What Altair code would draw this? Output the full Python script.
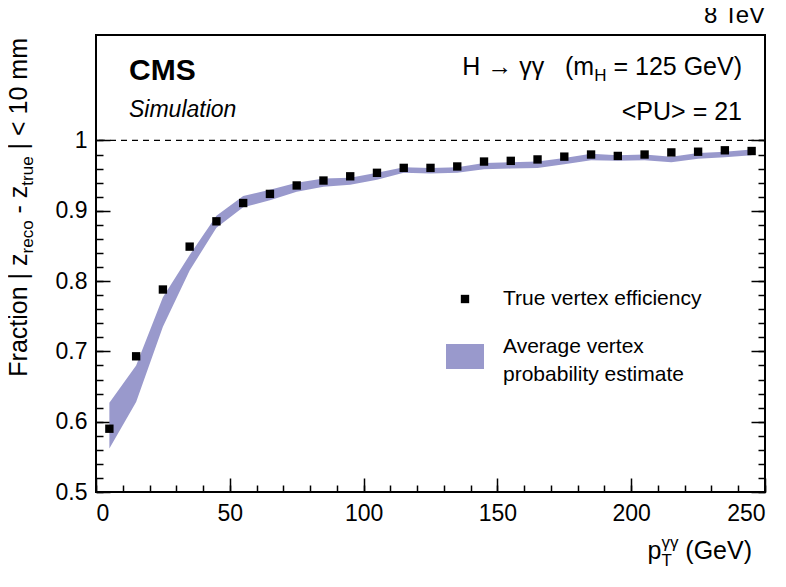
import altair as alt
import pandas as pd

# ---------------- data ----------------
pt = [5, 15, 25, 35, 45, 55, 65, 75, 85, 95, 105, 115, 125, 135, 145,
      155, 165, 175, 185, 195, 205, 215, 225, 235, 245]
eff = [0.590, 0.693, 0.788, 0.849, 0.885, 0.911, 0.924, 0.936, 0.943, 0.949,
       0.954, 0.961, 0.961, 0.963, 0.970, 0.971, 0.973, 0.977, 0.980, 0.978,
       0.980, 0.983, 0.984, 0.986, 0.985]
band_lo = [0.562, 0.628, 0.735, 0.815, 0.876, 0.905, 0.915, 0.927, 0.934, 0.937,
           0.944, 0.954, 0.953, 0.954, 0.959, 0.960, 0.961, 0.966, 0.972, 0.971,
           0.972, 0.969, 0.974, 0.976, 0.979]
band_hi = [0.627, 0.680, 0.777, 0.837, 0.893, 0.921, 0.930, 0.940, 0.946, 0.947,
           0.954, 0.962, 0.961, 0.962, 0.968, 0.969, 0.970, 0.975, 0.981, 0.979,
           0.980, 0.977, 0.982, 0.984, 0.987]
ref_level = [1.0]

x_major = [0, 50, 100, 150, 200, 250]
x_minor = [0, 10, 20, 30, 40, 50, 60, 70, 80, 90, 100, 110, 120, 130, 140, 150,
           160, 170, 180, 190, 200, 210, 220, 230, 240, 250]
y_major = [0.5, 0.6, 0.7, 0.8, 0.9, 1.0]
y_minor = [0.5, 0.52, 0.54, 0.56, 0.58, 0.6, 0.62, 0.64, 0.66, 0.68, 0.7, 0.72,
           0.74, 0.76, 0.78, 0.8, 0.82, 0.84, 0.86, 0.88, 0.9, 0.92, 0.94, 0.96,
           0.98, 1.0]

# ---------------- layout ----------------
W, H = 669, 457
FONT = "Liberation Sans"
BAND = "#9999cc"

df = pd.DataFrame({"pt": pt, "eff": eff, "lo": band_lo, "hi": band_hi})
ref_df = pd.DataFrame({"level": ref_level})
one = pd.DataFrame({"k": [0]})

xs = alt.Scale(domain=[0, 250], nice=False, zero=False)
ys = alt.Scale(domain=[0.5, 1.15], nice=False, zero=False)


def tick_axis(orient, values, size, offset):
    return alt.Axis(orient=orient, values=values, tickSize=size, offset=offset,
                    labels=False, domain=False, grid=False, title=None,
                    tickColor="black", tickWidth=1.5)


base = alt.Chart(df)

band = base.mark_area(color=BAND, opacity=1).encode(
    x=alt.X("pt:Q", scale=xs, title=None,
            axis=alt.Axis(orient="bottom", values=x_major, ticks=False, domain=False,
                          grid=False, labelPadding=10, labelFontSize=23,
                          labelFont=FONT, labelColor="black")),
    y=alt.Y("lo:Q", scale=ys, title=None,
            axis=alt.Axis(orient="left", values=y_major, ticks=False, domain=False,
                          grid=False, labelPadding=9, labelFontSize=23, format="~g",
                          labelFont=FONT, labelColor="black")),
    y2="hi:Q",
)

points = base.mark_square(size=70, color="black", opacity=1).encode(
    x=alt.X("pt:Q", scale=xs, title=None, axis=tick_axis("top", x_major, 14, -H)),
    y=alt.Y("eff:Q", scale=ys, title=None, axis=tick_axis("right", y_major, 14, -W)),
)

minor_in = base.mark_point(opacity=0).encode(
    x=alt.X("pt:Q", scale=xs, title=None, axis=tick_axis("top", x_minor, 7, -H)),
    y=alt.Y("eff:Q", scale=ys, title=None, axis=tick_axis("right", y_minor, 7, -W)),
)

right_major = base.mark_point(opacity=0).encode(
    x=alt.X("pt:Q", scale=xs, axis=None),
    y=alt.Y("eff:Q", scale=ys, title=None, axis=tick_axis("left", y_major, 14, -W)),
)
right_minor = base.mark_point(opacity=0).encode(
    x=alt.X("pt:Q", scale=xs, axis=None),
    y=alt.Y("eff:Q", scale=ys, title=None, axis=tick_axis("left", y_minor, 7, -W)),
)

ref_line = alt.Chart(ref_df).mark_rule(color="black", strokeWidth=1.3,
                                       strokeDash=[6, 5]).encode(
    y=alt.Y("level:Q", scale=ys, axis=None)
)


def txt(s, x, y, size=24, align="left", baseline="alphabetic", dx=0, dy=0,
        angle=0, weight="normal", style="normal"):
    return alt.Chart(one).mark_text(
        text=s, fontSize=size, align=align, baseline=baseline, dx=dx, dy=dy,
        angle=angle, font=FONT, fontWeight=weight, fontStyle=style, color="black"
    ).encode(x=alt.value(x), y=alt.value(y))


NB = "\u00a0"
texts = [
    txt("8 TeV", W, -12, size=24, align="right"),
    txt("CMS", 33, 45, size=30, weight="bold"),
    txt("Simulation", 33, 82, size=23, style="italic"),
    # H -> gamma gamma (m_H = 125 GeV)
    txt(NB + "=" + NB + "125 GeV)", 646, 40, size=25, align="right"),
    txt("H", 646, 40, size=17, align="right", dx=-135.5, dy=6),
    txt("H " + "\u2192" + " \u03b3\u03b3" + NB + NB + NB + "(m", 646, 40, size=25,
        align="right", dx=-147.8),
    txt("<PU> = 21", 646, 85, size=25, align="right"),
    # legend
    txt("True vertex efficiency", 407, 264, size=21, baseline="middle"),
    txt("Average vertex", 407, 312, size=21, baseline="middle"),
    txt("probability estimate", 407, 340, size=21, baseline="middle"),
    # x title
    txt(NB + "(GeV)", 656, 524, size=25, align="right"),
    txt("\u03b3\u03b3", 656, 524, size=17, align="left", dx=-90.6, dy=-11),
    txt("T", 656, 524, size=17, align="left", dx=-90.6, dy=7),
    txt("p", 656, 524, size=25, align="right", dx=-90.6),
    # y title (rotated, anchored at its end near the top of the frame)
    txt(NB + "|" + NB + "<" + NB + "10 mm", -69, 3, size=25, align="right", angle=270),
    txt("true", -69, 3, size=17, align="right", angle=270, dx=-118.4, dy=6),
    txt(NB + "-" + NB + "z", -69, 3, size=25, align="right", angle=270, dx=-147.7),
    txt("reco", -69, 3, size=17, align="right", angle=270, dx=-182.4, dy=6),
    txt("Fraction" + NB + "|" + NB + "z", -69, 3, size=25, align="right", angle=270,
        dx=-215.5),
]

leg_square = alt.Chart(one).mark_square(size=70, color="black", opacity=1).encode(
    x=alt.value(369), y=alt.value(264))
leg_rect = alt.Chart(one).mark_rect(color=BAND, opacity=1).encode(
    x=alt.value(350), x2=alt.value(388), y=alt.value(309), y2=alt.value(334))

chart = alt.layer(
    band, ref_line, points, minor_in, right_major, right_minor,
    leg_rect, leg_square, *texts
).resolve_axis(
    x="independent", y="independent"
).properties(
    width=W, height=H,
    autosize=alt.AutoSizeParams(type="none"),
    padding={"left": 88, "top": 27, "right": 13, "bottom": 87},
    background="white",
).configure_view(
    stroke="black", strokeWidth=2
)

chart.save("out.html", embed_options={"renderer": "svg", "actions": False})
